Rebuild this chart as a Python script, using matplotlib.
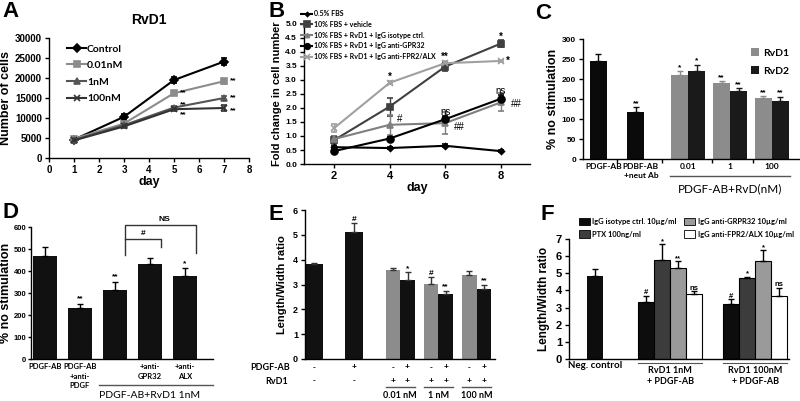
import numpy as np
import matplotlib.pyplot as plt
from matplotlib.patches import Patch
from matplotlib.lines import Line2D

plt.rcParams['font.family'] = ['Liberation Sans', 'DejaVu Sans']
plt.rcParams['axes.linewidth'] = 1.0
NARROW = ['Lato', 'Liberation Sans', 'DejaVu Sans']

# ---- data -------------------------------------------------------------
# A: RvD1 cell counts
days_a = [1, 3, 5, 7]
control_a = [4600, 10300, 19500, 24100]
control_a_err = [400, 700, 700, 800]
nm001_a = [4800, 8600, 16200, 19200]
nm001_a_err = [300, 400, 500, 600]
nm1_a = [4500, 8200, 12600, 15000]
nm1_a_err = [300, 400, 500, 600]
nm100_a = [4400, 7900, 12200, 12500]
nm100_a_err = [300, 400, 500, 700]

# B: fold change
days_b = [2, 4, 6, 8]
fbs05 = [0.60, 0.57, 0.65, 0.46]
fbs05_err = [0.05, 0.05, 0.05, 0.03]
vehicle = [0.85, 2.05, 3.48, 4.30]
vehicle_err = [0.15, 0.32, 0.15, 0.12]
isotype = [0.89, 1.40, 1.46, 2.20]
isotype_err = [0.10, 0.35, 0.38, 0.32]
anti_gpr32 = [0.46, 0.91, 1.60, 2.33]
anti_gpr32_err = [0.05, 0.05, 0.10, 0.15]
anti_fpr2 = [1.28, 2.90, 3.60, 3.68]
anti_fpr2_err = [0.15, 0.05, 0.08, 0.05]

# C: % no stimulation
c_single_labels = ['PDGF-AB', 'PDBF-AB\n+neut Ab']
c_single = [245, 118]
c_single_err = [17, 12]
c_single_sig = ['', '**']
c_doses = ['0.01', '1', '100']
c_rvd1 = [210, 189, 152]
c_rvd1_err = [10, 5, 6]
c_rvd1_sig = ['*', '**', '**']
c_rvd2 = [220, 170, 145]
c_rvd2_err = [16, 8, 11]
c_rvd2_sig = ['*', '**', '**']

# D: % no stimulation
d_labels = ['PDGF-AB', 'PDGF-AB\n+anti-\nPDGF', '', '+anti-\nGPR32', '+anti-\nALX']
d_vals = [470, 232, 315, 432, 378]
d_err = [40, 20, 37, 27, 35]
d_sig = ['', '**', '**', '', '*']

# E: length/width ratio
e_vals = [3.82, 5.10, 3.57, 3.17, 3.03, 2.62, 3.38, 2.80]
e_err = [0.05, 0.38, 0.10, 0.33, 0.28, 0.13, 0.17, 0.20]
e_sig = ['', '#', '', '*', '#', '**', '', '**']
e_pdgf = ['-', '+', '-', '+', '-', '+', '-', '+']
e_rvd1 = ['-', '-', '+', '+', '+', '+', '+', '+']
e_doses = ['0.01 nM', '1 nM', '100 nM']

# F: length/width ratio
f_neg = 4.85
f_neg_err = 0.40
f_series = ['IgG isotype ctrl. 10\u00b5g/ml', 'PTX 100ng/ml',
            'IgG anti-GRPR32 10\u00b5g/ml', 'IgG anti-FPR2/ALX 10\u00b5g/ml']
f_1nm = [3.30, 5.75, 5.30, 3.82]
f_1nm_err = [0.40, 0.95, 0.40, 0.12]
f_1nm_sig = ['#', '*', '**', 'ns']
f_100nm = [3.18, 4.70, 5.70, 3.70]
f_100nm_err = [0.32, 0.08, 0.65, 0.45]
f_100nm_sig = ['#', '*', '*', 'ns']
f_groups = ['RvD1 1nM\n+ PDGF-AB', 'RvD1 100nM\n+ PDGF-AB']

# ---- layout helpers ---------------------------------------------------
W, H = 800, 401
fig = plt.figure(figsize=(W / 100, H / 100), dpi=100)


def add_ax(left, right, y0, ytop):
    ax = fig.add_axes([left / W, 1 - y0 / H, (right - left) / W, (y0 - ytop) / H])
    for s in ['top', 'right']:
        ax.spines[s].set_visible(False)
    ax.tick_params(length=3, width=1, labelsize=7, pad=2)
    return ax


def letter(x, y, s):
    fig.text(x / W, 1 - y / H, s, fontsize=16, fontweight='bold', va='top', ha='left')


def bold_ticks(ax, size=7, narrow_x=False):
    for lab in ax.get_xticklabels() + ax.get_yticklabels():
        lab.set_fontweight('bold')
        lab.set_fontsize(size)
    if narrow_x:
        for lab in ax.get_xticklabels():
            lab.set_family(NARROW)


# ---- A ----------------------------------------------------------------
ax = add_ax(49, 249, 158, 38)
series_a = [
    (control_a, control_a_err, 'Control', 'black', 'D', 4),
    (nm001_a, nm001_a_err, '0.01nM', '#8c8c8c', 's', 5),
    (nm1_a, nm1_a_err, '1nM', '#555555', '^', 5),
    (nm100_a, nm100_a_err, '100nM', '#333333', 'x', 5),
]
handles = []
for vals, err, lab, col, mk, ms in series_a:
    ax.errorbar(days_a, vals, yerr=err, color=col, marker=mk, ms=ms, lw=1.5,
                capsize=2, elinewidth=1, mew=1.2)
    handles.append(Line2D([], [], color=col, marker=mk, ms=ms, lw=1.5, mew=1.2, label=lab))
ax.set_xlim(0, 8)
ax.set_ylim(0, 30000)
ax.set_xticks(range(0, 9))
ax.set_yticks(range(0, 30001, 5000))
bold_ticks(ax, 7)
ax.set_xlabel('day', fontsize=9, fontweight='bold', labelpad=1)
ax.set_ylabel('Number of cells', fontsize=9, fontweight='bold', labelpad=2)
ax.set_title('RvD1', fontsize=10, fontweight='bold', pad=10)
ax.legend(handles=handles, loc='upper left', bbox_to_anchor=(0.06, 1.0), frameon=False,
          prop=dict(size=7.5, weight='bold', family=NARROW),
          handlelength=1.8, handletextpad=0.1, labelspacing=0.7, borderaxespad=0.2)
for x, y in [(5, nm001_a[2]), (5, nm1_a[2] + 600), (5, nm100_a[2] - 1400),
             (7, nm001_a[3]), (7, nm1_a[3]), (7, nm100_a[3] - 600)]:
    ax.text(x + 0.25, y, '**', fontsize=6, fontweight='bold', va='center')
letter(2, 1, 'A')

# ---- B ----------------------------------------------------------------
ax = add_ax(304, 530, 164, 24)
series_b = [
    (fbs05, fbs05_err, '0.5% FBS', 'black', 'D', 3),
    (vehicle, vehicle_err, '10% FBS + vehicle', '#404040', 's', 5),
    (isotype, isotype_err, '10% FBS + RvD1 + IgG isotype ctrl.', '#7f7f7f', '^', 4),
    (anti_gpr32, anti_gpr32_err, '10% FBS + RvD1 + IgG anti-GPR32', 'black', 'o', 5),
    (anti_fpr2, anti_fpr2_err, '10% FBS + RvD1 + IgG anti-FPR2/ALX', '#a0a0a0', 'x', 5),
]
handles = []
for vals, err, lab, col, mk, ms in series_b:
    ax.errorbar(days_b, vals, yerr=err, color=col, marker=mk, ms=ms, lw=1.5,
                capsize=2, elinewidth=1, mew=1.2)
    handles.append(Line2D([], [], color=col, marker=mk, ms=ms - 1, lw=1.5, mew=1.2, label=lab))
ax.set_xlim(0.92, 9.05)
ax.set_ylim(0, 5)
ax.set_xticks(days_b)
ax.set_yticks(np.arange(0, 5.01, 0.5))
ax.set_yticklabels([f'{v:.1f}' for v in np.arange(0, 5.01, 0.5)])
bold_ticks(ax, 6)
for lab in ax.get_xticklabels():
    lab.set_fontsize(8)
ax.set_xlabel('day', fontsize=9, fontweight='bold', labelpad=1)
ax.set_ylabel('Fold change in cell number', fontsize=8, fontweight='bold', labelpad=2)
fig.legend(handles=handles, loc='upper left', bbox_to_anchor=(301 / W, 1 - 10 / H),
           frameon=False, prop=dict(size=5.0, weight='bold', family=NARROW), handlelength=1.6,
           handletextpad=0.2, labelspacing=0.55, borderaxespad=0, borderpad=0)
ax.text(4, anti_fpr2[1] + 0.12, '*', ha='center', fontsize=7, fontweight='bold')
ax.text(6, anti_fpr2[2] + 0.12, '**', ha='center', fontsize=7, fontweight='bold')
ax.text(8, vehicle[3] + 0.15, '*', ha='center', fontsize=7, fontweight='bold')
ax.text(8.2, anti_fpr2[3], '*', va='center', fontsize=7, fontweight='bold')
ax.text(4.25, isotype[1] + 0.1, '#', fontsize=7)
ax.text(6, 1.75, 'ns', ha='center', fontsize=7)
ax.text(6.3, 1.2, '##', fontsize=7)
ax.text(8, 2.5, 'ns', ha='center', fontsize=7)
ax.text(8.35, 2.05, '##', fontsize=7)
letter(268, 1, 'B')

# ---- C ----------------------------------------------------------------
ax = add_ax(583, 799, 159, 39)
single_pos = [0.9, 3.1]
group_pos = [5.7 + 2.45 * i for i in range(3)]
ax.bar(single_pos, c_single, width=1.0, color='#0a0a0a',
       yerr=[np.zeros(2), c_single_err], capsize=2,
       error_kw=dict(elinewidth=1, capthick=1, ecolor='#0a0a0a'))
for p, v, e, s in zip(single_pos, c_single, c_single_err, c_single_sig):
    ax.text(p, v + e + 5, s, ha='center', fontsize=6, fontweight='bold')
r1 = [p for p in group_pos]
r2 = [p + 1.0 for p in group_pos]
ax.bar(r1, c_rvd1, width=1.0, color='#8c8c8c', label='RvD1',
       yerr=[np.zeros(3), c_rvd1_err], capsize=2,
       error_kw=dict(elinewidth=1, capthick=1, ecolor='#8c8c8c'))
ax.bar(r2, c_rvd2, width=1.0, color='#1a1a1a', label='RvD2',
       yerr=[np.zeros(3), c_rvd2_err], capsize=2,
       error_kw=dict(elinewidth=1, capthick=1, ecolor='#1a1a1a'))
for p, v, e, s in zip(r1 + r2, c_rvd1 + c_rvd2, c_rvd1_err + c_rvd2_err, c_rvd1_sig + c_rvd2_sig):
    ax.text(p, v + e + 5, s, ha='center', fontsize=6, fontweight='bold')
ax.set_xlim(0, 12.7)
ax.set_ylim(0, 300)
ax.set_yticks(range(0, 301, 50))
ax.set_xticks([single_pos[0] + 0.3, single_pos[1] + 0.3] + [p + 0.5 for p in group_pos])
ax.set_xticklabels(c_single_labels + c_doses, linespacing=1.3)
ax.set_xticks([2.0, 4.65, 7.57, 10.02], minor=True)
ax.tick_params(axis='x', which='major', length=0, pad=3)
ax.tick_params(axis='x', which='minor', length=3, width=1)
bold_ticks(ax, 6.0, narrow_x=True)
ax.set_ylabel('% no stimulation', fontsize=9, fontweight='bold', labelpad=2)
ax.legend(loc='upper right', bbox_to_anchor=(1.0, 1.0), frameon=False,
          prop=dict(size=7.5, weight='bold', family=NARROW), handlelength=0.8, handleheight=0.8,
          handletextpad=0.4, labelspacing=0.8)
tr = ax.get_xaxis_transform()
ax.plot([group_pos[0] - 0.6, group_pos[-1] + 1.6], [-0.14, -0.14], transform=tr,
        color='#555555', lw=1, clip_on=False)
ax.text(np.mean(group_pos) + 0.5, -0.2, 'PDGF-AB+RvD(nM)', transform=tr,
        ha='center', va='top', fontsize=8.5, family=NARROW)
letter(535, 3, 'C')

# ---- D ----------------------------------------------------------------
ax = add_ax(31, 213, 359, 227)
d_pos = [0.4 + i for i in range(len(d_vals))]
ax.bar(d_pos, d_vals, width=0.69, color='#111111',
       yerr=[np.zeros(len(d_vals)), d_err], capsize=2, error_kw=dict(elinewidth=1, capthick=1))
for p, v, e, s in zip(d_pos, d_vals, d_err, d_sig):
    ax.text(p, v + e + 15, s, ha='center', fontsize=6, fontweight='bold')
ax.set_xlim(0, 5.2)
ax.set_ylim(0, 600)
ax.set_yticks(range(0, 601, 100))
ax.set_xticks(d_pos)
ax.set_xticklabels(d_labels, linespacing=1.4)
ax.tick_params(axis='x', length=0, pad=3)
ax.tick_params(axis='y', pad=1, length=2.5)
bold_ticks(ax, 5.5, narrow_x=True)
ax.set_ylabel('% no stimulation', fontsize=9, fontweight='bold', labelpad=1)
# comparison brackets
lx = d_pos[2] + 0.3
ax.plot([lx, lx, d_pos[4] + 0.3, d_pos[4] + 0.3], [473, 609, 609, 480],
        color='#333333', lw=1, clip_on=False)
ax.plot([lx, d_pos[3] + 0.3, d_pos[3] + 0.3], [544, 544, 510],
        color='#333333', lw=1, clip_on=False)
ax.text(d_pos[3] + 0.4, 628, 'NS', ha='center', fontsize=6, fontweight='bold')
ax.text(d_pos[2] + 0.8, 562, '#', ha='center', fontsize=6, fontweight='bold')
tr = ax.get_xaxis_transform()
ax.plot([d_pos[2] - 0.45, 5.2], [-0.2, -0.2], transform=tr, color='#555555', lw=1, clip_on=False)
ax.text(d_pos[3], -0.24, 'PDGF-AB+RvD1 1nM', transform=tr, ha='center', va='top',
        fontsize=7.5, family=NARROW)
letter(2, 202, 'D')

# ---- E ----------------------------------------------------------------
ax = add_ax(305, 495, 359, 210)
e_pos = [0.62, 3.38] + [6.07 + 2.63 * g + i for g in range(3) for i in range(2)]
e_width = [1.25, 1.25] + [1.0] * 6
e_col = ['#111111', '#111111'] + ['#8c8c8c', '#111111'] * 3
ax.bar(e_pos, e_vals, width=e_width, color=e_col,
       yerr=[np.zeros(len(e_vals)), e_err], capsize=2,
       error_kw=dict(elinewidth=1, capthick=1, ecolor='#333333'))
for p, v, e, s in zip(e_pos, e_vals, e_err, e_sig):
    ax.text(p, v + e + 0.08, s, ha='center', fontsize=6, fontweight='bold')
ax.set_xlim(0, 13.1)
ax.set_ylim(0, 6)
ax.set_yticks(range(0, 7))
ax.set_xticks([])
bold_ticks(ax, 6.5)
ax.set_ylabel('Length/Width ratio', fontsize=8, fontweight='bold', labelpad=4)
tr = ax.get_xaxis_transform()
for p, a, b in zip(e_pos, e_pdgf, e_rvd1):
    ax.text(p, -0.06, a, transform=tr, ha='center', va='center', fontsize=6, fontweight='bold')
    ax.text(p, -0.148, b, transform=tr, ha='center', va='center', fontsize=6, fontweight='bold')
ax.text(-0.08, -0.06, 'PDGF-AB', transform=ax.transAxes, ha='right', va='center',
        fontsize=6.5, fontweight='bold', family=NARROW)
ax.text(-0.09, -0.148, 'RvD1', transform=ax.transAxes, ha='right', va='center',
        fontsize=6.5, fontweight='bold', family=NARROW)
for g, lab in enumerate(e_doses):
    a, b = e_pos[2 + 2 * g], e_pos[3 + 2 * g]
    ax.plot([a - 0.5, b + 0.5], [-0.19, -0.19], transform=tr, color='#555555', lw=1, clip_on=False)
    ax.text((a + b) / 2, -0.245, lab, transform=tr, ha='center', va='center',
            fontsize=6.5, fontweight='bold', family=NARROW)
letter(268, 204, 'E')

# ---- F ----------------------------------------------------------------
ax = add_ax(569, 789, 359, 239)
f_col = ['#0d0d0d', '#3c3c3c', '#9a9a9a', 'white']
g1 = [4.8 + i for i in range(4)]
g2 = [10.1 + i for i in range(4)]
ax.bar([1.62], [f_neg], width=1.0, color='#0d0d0d',
       yerr=[[0], [f_neg_err]], capsize=2, error_kw=dict(elinewidth=1, capthick=1))
for i in range(4):
    ax.bar([g1[i], g2[i]], [f_1nm[i], f_100nm[i]], width=1.0, color=f_col[i],
           edgecolor='black', linewidth=0.8, label=f_series[i],
           yerr=[[0, 0], [f_1nm_err[i], f_100nm_err[i]]], capsize=2,
           error_kw=dict(elinewidth=1, capthick=1))
for p, v, e, s in zip(g1 + g2, f_1nm + f_100nm, f_1nm_err + f_100nm_err, f_1nm_sig + f_100nm_sig):
    ax.text(p, v + e + 0.08, s, ha='center', fontsize=5.5, fontweight='bold')
ax.set_xlim(0, 13.7)
ax.set_ylim(0, 7)
ax.set_yticks(range(0, 8))
ax.set_xticks([])
bold_ticks(ax, 8)
ax.set_ylabel('Length/Width ratio', fontsize=8.5, fontweight='bold', labelpad=4)
tr = ax.get_xaxis_transform()
ax.text(1.62, -0.055, 'Neg. control', transform=tr, ha='center', va='center',
        fontsize=7, fontweight='bold', family=NARROW)
for grp, lab in zip([g1, g2], f_groups):
    ax.plot([grp[0] - 0.5, grp[-1] + 0.5], [-0.035, -0.035], transform=tr,
            color='#555555', lw=0.8, clip_on=False)
    ax.text((grp[0] + grp[-1]) / 2, -0.14, lab, transform=tr, ha='center', va='center',
            fontsize=6.5, fontweight='bold', linespacing=1.2, family=NARROW)
handles = [Patch(facecolor=c, edgecolor='black', linewidth=0.6) for c in f_col]
fig.legend(handles, f_series, ncol=2, loc='upper left', bbox_to_anchor=(579 / W, 1 - 218 / H),
           frameon=False, prop=dict(size=5.4, weight='bold', family=NARROW),
           handlelength=1.4, handleheight=1.1, handletextpad=0.4, labelspacing=0.7,
           columnspacing=1.0, borderaxespad=0, borderpad=0)
letter(540, 204, 'F')

fig.savefig('out.png', dpi=100, facecolor='white')
